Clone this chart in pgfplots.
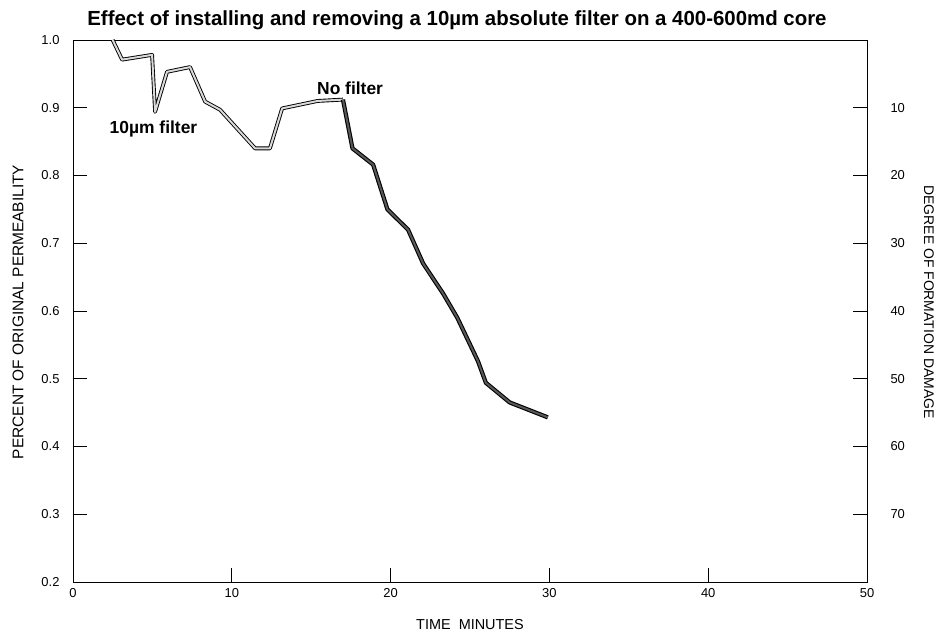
\documentclass[border=0pt]{standalone}
\usepackage{pgfplots}
\pgfplotsset{compat=1.18}
\usepackage{fontspec}
\setmainfont{Liberation Sans}
\begin{document}
\begin{tikzpicture}[x=1bp,y=1bp]
\path[use as bounding box] (-73,-52) rectangle (864,582);
\begin{axis}[
  at={(0,0)}, anchor=south west,
  width=794bp, height=542bp, scale only axis,
  xmin=0, xmax=50, ymin=0.2, ymax=1.0,
  xtick={0,10,20,30,40,50},
  ytick={0.2,0.3,0.4,0.5,0.6,0.7,0.8,0.9,1.0},
  yticklabels={0.2,0.3,0.4,0.5,0.6,0.7,0.8,0.9,1.0},
  xtick pos=bottom, ytick pos=left,
  tick align=inside,
  major tick length=14bp,
  axis line style={line width=0.8bp},
  tick style={line width=0.8bp, black},
  /pgf/number format/assume math mode=true,
  ticklabel style={font=\fontsize{13}{13}\selectfont},
  yticklabel style={xshift=-10bp},
  xticklabel style={yshift=-3bp},
  clip=true,
]
\addplot[draw=black, line width=0.9bp, double=gray!30, double distance=2bp, line join=round, no marks] coordinates {
 (2.5,1.0) (3.09,0.971) (4.98,0.978) (5.17,0.894) (5.92,0.953) (7.37,0.96)
 (8.32,0.909) (9.26,0.897) (11.47,0.84) (12.4,0.84) (13.17,0.899) (15.4,0.91) (17.0,0.912)
};
\addplot[draw=black, line width=1.1bp, double=black!65, double distance=2bp, line join=round, no marks] coordinates {
 (17.0,0.912) (17.6,0.84) (18.9,0.816) (19.8,0.75) (21.1,0.72) (22.05,0.67)
 (23.3,0.626) (24.2,0.59) (25.5,0.526) (26.0,0.494) (27.5,0.465) (29.9,0.443)
};
\node[font=\bfseries\fontsize{17.5}{17.5}\selectfont] at (axis cs:17.45,0.928) {No filter};
\node[font=\bfseries\fontsize{17.5}{17.5}\selectfont] at (axis cs:5.07,0.869) {10µm filter};
\end{axis}
\begin{axis}[
  at={(0,0)}, anchor=south west,
  width=794bp, height=542bp, scale only axis,
  xmin=0, xmax=50, ymin=0.2, ymax=1.0,
  axis x line=none, axis y line*=right,
  ytick={0.3,0.4,0.5,0.6,0.7,0.8,0.9},
  yticklabels={70,60,50,40,30,20,10},
  tick align=inside,
  major tick length=14bp,
  axis line style={line width=0.8bp},
  tick style={line width=0.8bp, black},
  /pgf/number format/assume math mode=true,
  ticklabel style={font=\fontsize{13}{13}\selectfont},
  yticklabel style={xshift=20bp},
]
\end{axis}
\node[anchor=base, font=\bfseries\fontsize{20.5}{20.5}\selectfont] at (384,556) {Effect of installing and removing a 10µm absolute filter on a 400-600md core};
\node[font=\fontsize{14.5}{14.5}\selectfont] at (397,-43) {TIME\ \ MINUTES};
\node[rotate=90, font=\fontsize{15.5}{15.5}\selectfont] at (-55,270) {PERCENT OF ORIGINAL PERMEABILITY};
\node[rotate=-90, font=\fontsize{14}{14}\selectfont] at (856,280) {DEGREE OF FORMATION DAMAGE};
\end{tikzpicture}
\end{document}
